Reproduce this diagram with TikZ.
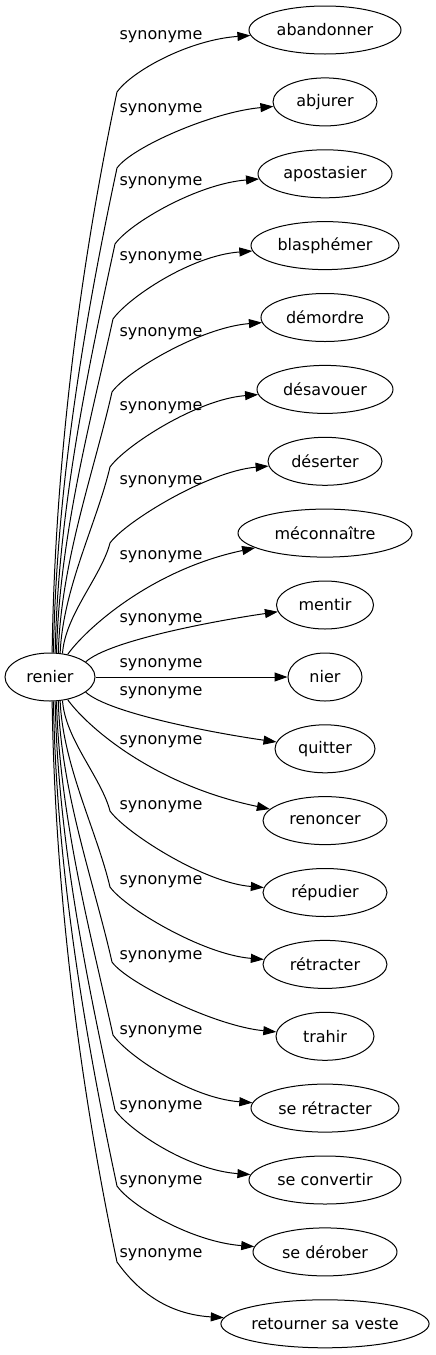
\documentclass[tikz,border=0pt]{standalone}
\usepackage{fontspec}
\setmainfont{DejaVu Sans}
\usetikzlibrary{shapes.geometric,arrows.meta,calc}
\newcommand\synedge[6]{%
  \pgfmathsetmacro\zzL{#4-#6}%
  \pgfmathsetmacro\zzS{(\zzL>0)?1:-1}%
  \pgfmathsetmacro\zzA{#3+3}%
  \pgfmathsetmacro\zzB{#4-0.35*\zzL}%
  \pgfmathsetmacro\zzC{#5-0.06*abs(\zzL)-2}%
  \pgfmathsetmacro\zzD{#6+0.3*\zzL}%
  \pgfmathsetmacro\zzE{#5+15}%
  \pgfmathsetmacro\zzF{#6-21*\zzS}%
  \pgfmathsetmacro\zzG{10*\zzS}%
  \draw[synarrow] (renier.#2) .. controls (\zzA,\zzB) and (\zzC,\zzD) .. (#5,#6)
    .. controls (\zzE,\zzF) and ($(#1.west)+(-60,\zzG)$) .. (#1);}
\begin{document}
\begin{tikzpicture}[x=1pt,y=-1pt,
  every node/.style={font=\fontsize{16}{19}\selectfont},
  tn/.style={ellipse, draw, line width=1pt, inner sep=0pt, minimum height=48pt},
  lbl/.style={inner sep=0pt},
  synarrow/.style={draw, line width=1pt, -{Triangle[length=13pt,width=9pt]}}]
\useasboundingbox (0,0) rectangle (436,1355);
\node[tn, minimum width=90pt] (renier) at (50,677) {renier};
\node[tn, minimum width=152pt] (abandonner) at (325,30) {abandonner};
\node[tn, minimum width=104pt] (abjurer) at (325,101.9) {abjurer};
\node[tn, minimum width=134pt] (apostasier) at (325,173.8) {apostasier};
\node[tn, minimum width=148pt] (blasphemer) at (325,245.6) {blasphémer};
\node[tn, minimum width=128pt] (demordre) at (325,317.5) {démordre};
\node[tn, minimum width=136pt] (desavouer) at (325,389.4) {désavouer};
\node[tn, minimum width=114pt] (deserter) at (325,461.3) {déserter};
\node[tn, minimum width=174pt] (meconnaitre) at (325,533.1) {méconnaître};
\node[tn, minimum width=97pt] (mentir) at (325,605) {mentir};
\node[tn, minimum width=74pt] (nier) at (325,677) {nier};
\node[tn, minimum width=100pt] (quitter) at (325,748.8) {quitter};
\node[tn, minimum width=124pt] (renoncer) at (325,820.6) {renoncer};
\node[tn, minimum width=124pt] (repudier) at (325,892.5) {répudier};
\node[tn, minimum width=124pt] (retracter) at (325,964.4) {rétracter};
\node[tn, minimum width=98pt] (trahir) at (325,1036.3) {trahir};
\node[tn, minimum width=148pt] (seretracter) at (325,1108.1) {se rétracter};
\node[tn, minimum width=152pt] (seconvertir) at (325,1180) {se convertir};
\node[tn, minimum width=144pt] (sederober) at (325,1251.9) {se dérober};
\node[tn, minimum width=208pt] (retourner) at (325,1323.8) {retourner sa veste};
% edges
\synedge{abandonner}{85}{52}{653}{117}{92}
\synedge{abjurer}{82}{53.5}{653}{117}{168}
\synedge{apostasier}{78}{55}{653}{115}{244}
\synedge{blasphemer}{75}{56.5}{653}{113}{319}
\synedge{demordre}{71}{58}{653}{112}{392}
\synedge{desavouer}{67}{60}{653.5}{110}{467}
\synedge{deserter}{62}{62}{654}{110}{543}
\draw[synarrow] (renier.52) .. controls (85,630) and (150,570) .. (meconnaitre);
\draw[synarrow] (renier.23) .. controls (110,640) and (220,620) .. (mentir);
\draw[synarrow] (renier) -- (nier);
\draw[synarrow] (renier.337) .. controls (110,714) and (220,734) .. (quitter);
\draw[synarrow] (renier.308) .. controls (85,724) and (150,784) .. (renoncer);
\synedge{repudier}{298}{62}{700}{110}{811}
\synedge{retracter}{293}{60}{700.5}{110}{887}
\synedge{trahir}{289}{58}{701}{112}{962}
\synedge{seretracter}{285}{56.5}{701}{113}{1035}
\synedge{seconvertir}{282}{55}{701}{115}{1110}
\synedge{sederober}{278}{53.5}{701}{117}{1186}
\synedge{retourner}{275}{52}{701}{117}{1262}
% labels
\node[lbl] (l1) at (161,37) {synonyme};
\node[lbl] (l2) at (161,110) {synonyme};
\node[lbl] (l3) at (161,183) {synonyme};
\node[lbl] (l4) at (161,258) {synonyme};
\node[lbl] (l5) at (161,334) {synonyme};
\node[lbl] (l6) at (161,408) {synonyme};
\node[lbl] (l7) at (161,482) {synonyme};
\node[lbl] (l8) at (161,557) {synonyme};
\node[lbl] (l9) at (161,620) {synonyme};
\node[lbl] (l10) at (161,665) {synonyme};
\node[lbl] (l11) at (161,693) {synonyme};
\node[lbl] (l12) at (161,742) {synonyme};
\node[lbl] (l13) at (161,807) {synonyme};
\node[lbl] (l14) at (161,882) {synonyme};
\node[lbl] (l15) at (161,957) {synonyme};
\node[lbl] (l16) at (161,1032) {synonyme};
\node[lbl] (l17) at (161,1107) {synonyme};
\node[lbl] (l18) at (161,1182) {synonyme};
\node[lbl] (l19) at (161,1255) {synonyme};
\end{tikzpicture}
\end{document}
